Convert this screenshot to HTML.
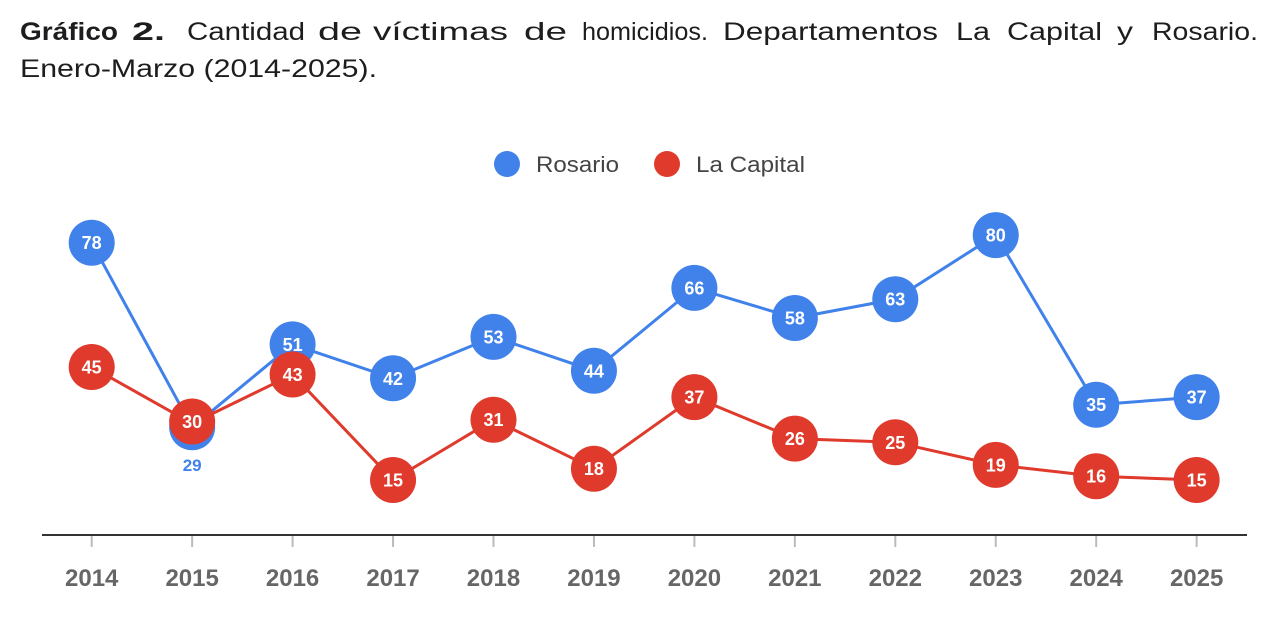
<!DOCTYPE html>
<html><head><meta charset="utf-8"><style>
html,body{margin:0;padding:0;background:#fff;}
svg{display:block;}
text{font-family:"Liberation Sans",Arial,sans-serif;}
</style></head><body>
<svg width="1280" height="620" viewBox="0 0 1280 620" xmlns="http://www.w3.org/2000/svg">
<rect width="1280" height="620" fill="#fff"/>
<!-- Title -->
<g font-size="25" fill="#1d1d1f">
<text x="20" y="40" font-weight="bold" textLength="98" lengthAdjust="spacingAndGlyphs">Gráfico</text>
<text x="132" y="40" font-weight="bold" textLength="33" lengthAdjust="spacingAndGlyphs">2.</text>
<text x="187" y="40" textLength="118" lengthAdjust="spacingAndGlyphs">Cantidad</text>
<text x="318" y="40" textLength="44" lengthAdjust="spacingAndGlyphs">de</text>
<text x="373" y="40" textLength="135" lengthAdjust="spacingAndGlyphs">víctimas</text>
<text x="524" y="40" textLength="43" lengthAdjust="spacingAndGlyphs">de</text>
<text x="582" y="40" textLength="126" lengthAdjust="spacingAndGlyphs">homicidios.</text>
<text x="723" y="40" textLength="215" lengthAdjust="spacingAndGlyphs">Departamentos</text>
<text x="956" y="40" textLength="34" lengthAdjust="spacingAndGlyphs">La</text>
<text x="1007" y="40" textLength="95" lengthAdjust="spacingAndGlyphs">Capital</text>
<text x="1117" y="40" textLength="16" lengthAdjust="spacingAndGlyphs">y</text>
<text x="1152" y="40" textLength="106" lengthAdjust="spacingAndGlyphs">Rosario.</text>
<text x="20" y="77" textLength="357" lengthAdjust="spacingAndGlyphs">Enero-Marzo (2014-2025).</text>
</g>
<!-- Legend -->
<circle cx="507" cy="164" r="13" fill="#4082EA"/>
<text x="536" y="172" font-size="22" fill="#444" textLength="83" lengthAdjust="spacingAndGlyphs">Rosario</text>
<circle cx="667" cy="164" r="13" fill="#DF3A2C"/>
<text x="696" y="172" font-size="22" fill="#444" textLength="109" lengthAdjust="spacingAndGlyphs">La Capital</text>
<!-- Axis -->
<line x1="42" y1="535" x2="1247" y2="535" stroke="#333" stroke-width="2"/>
<g stroke="#bbb" stroke-width="2">
<line x1="91.7" y1="536" x2="91.7" y2="547"/>
<line x1="192.15" y1="536" x2="192.15" y2="547"/>
<line x1="292.6" y1="536" x2="292.6" y2="547"/>
<line x1="393.05" y1="536" x2="393.05" y2="547"/>
<line x1="493.5" y1="536" x2="493.5" y2="547"/>
<line x1="593.95" y1="536" x2="593.95" y2="547"/>
<line x1="694.4" y1="536" x2="694.4" y2="547"/>
<line x1="794.85" y1="536" x2="794.85" y2="547"/>
<line x1="895.3" y1="536" x2="895.3" y2="547"/>
<line x1="995.75" y1="536" x2="995.75" y2="547"/>
<line x1="1096.2" y1="536" x2="1096.2" y2="547"/>
<line x1="1196.65" y1="536" x2="1196.65" y2="547"/>
</g>
<g font-size="24" font-weight="bold" fill="#666" text-anchor="middle">
<text x="91.7" y="586">2014</text>
<text x="192.15" y="586">2015</text>
<text x="292.6" y="586">2016</text>
<text x="393.05" y="586">2017</text>
<text x="493.5" y="586">2018</text>
<text x="593.95" y="586">2019</text>
<text x="694.4" y="586">2020</text>
<text x="794.85" y="586">2021</text>
<text x="895.3" y="586">2022</text>
<text x="995.75" y="586">2023</text>
<text x="1096.2" y="586">2024</text>
<text x="1196.65" y="586">2025</text>
</g>
<!-- Rosario series -->
<polyline fill="none" stroke="#4082EA" stroke-width="3" stroke-linejoin="round" points="91.7,242.7 192.15,427.3 292.6,344.4 393.05,378.3 493.5,336.9 593.95,370.8 694.4,287.9 794.85,318.0 895.3,299.2 995.75,235.1 1096.2,404.7 1196.65,397.1"/>
<g fill="#4082EA">
<circle cx="91.7" cy="242.7" r="23"/>
<circle cx="192.15" cy="427.3" r="23"/>
<circle cx="292.6" cy="344.4" r="23"/>
<circle cx="393.05" cy="378.3" r="23"/>
<circle cx="493.5" cy="336.9" r="23"/>
<circle cx="593.95" cy="370.8" r="23"/>
<circle cx="694.4" cy="287.9" r="23"/>
<circle cx="794.85" cy="318.0" r="23"/>
<circle cx="895.3" cy="299.2" r="23"/>
<circle cx="995.75" cy="235.1" r="23"/>
<circle cx="1096.2" cy="404.7" r="23"/>
<circle cx="1196.65" cy="397.1" r="23"/>
</g>
<g font-size="18" font-weight="bold" fill="#fff" text-anchor="middle">
<text x="91.7" y="249.2">78</text>
<text x="292.6" y="350.9">51</text>
<text x="393.05" y="384.8">42</text>
<text x="493.5" y="343.4">53</text>
<text x="593.95" y="377.3">44</text>
<text x="694.4" y="294.4">66</text>
<text x="794.85" y="324.5">58</text>
<text x="895.3" y="305.7">63</text>
<text x="995.75" y="241.6">80</text>
<text x="1096.2" y="411.2">35</text>
<text x="1196.65" y="403.6">37</text>
</g>
<!-- La Capital series -->
<polyline fill="none" stroke="#DF3A2C" stroke-width="3" stroke-linejoin="round" points="91.7,367.0 192.15,423.5 292.6,374.5 393.05,480.0 493.5,419.7 593.95,468.7 694.4,397.1 794.85,438.6 895.3,442.3 995.75,464.9 1096.2,476.2 1196.65,480.0"/>
<g fill="#DF3A2C">
<circle cx="91.7" cy="367.0" r="23"/>
<circle cx="192.15" cy="421.5" r="23"/>
<circle cx="292.6" cy="374.5" r="23"/>
<circle cx="393.05" cy="480.0" r="23"/>
<circle cx="493.5" cy="419.7" r="23"/>
<circle cx="593.95" cy="468.7" r="23"/>
<circle cx="694.4" cy="397.1" r="23"/>
<circle cx="794.85" cy="438.6" r="23"/>
<circle cx="895.3" cy="442.3" r="23"/>
<circle cx="995.75" cy="464.9" r="23"/>
<circle cx="1096.2" cy="476.2" r="23"/>
<circle cx="1196.65" cy="480.0" r="23"/>
</g>
<g font-size="18" font-weight="bold" fill="#fff" text-anchor="middle">
<text x="91.7" y="373.5">45</text>
<text x="192.15" y="428.0">30</text>
<text x="292.6" y="381.0">43</text>
<text x="393.05" y="486.5">15</text>
<text x="493.5" y="426.2">31</text>
<text x="593.95" y="475.2">18</text>
<text x="694.4" y="403.6">37</text>
<text x="794.85" y="445.1">26</text>
<text x="895.3" y="448.8">25</text>
<text x="995.75" y="471.4">19</text>
<text x="1096.2" y="482.7">16</text>
<text x="1196.65" y="486.5">15</text>
</g>
<text x="192.15" y="471" font-size="17" font-weight="bold" fill="#4082EA" text-anchor="middle">29</text>
</svg>
</body></html>
